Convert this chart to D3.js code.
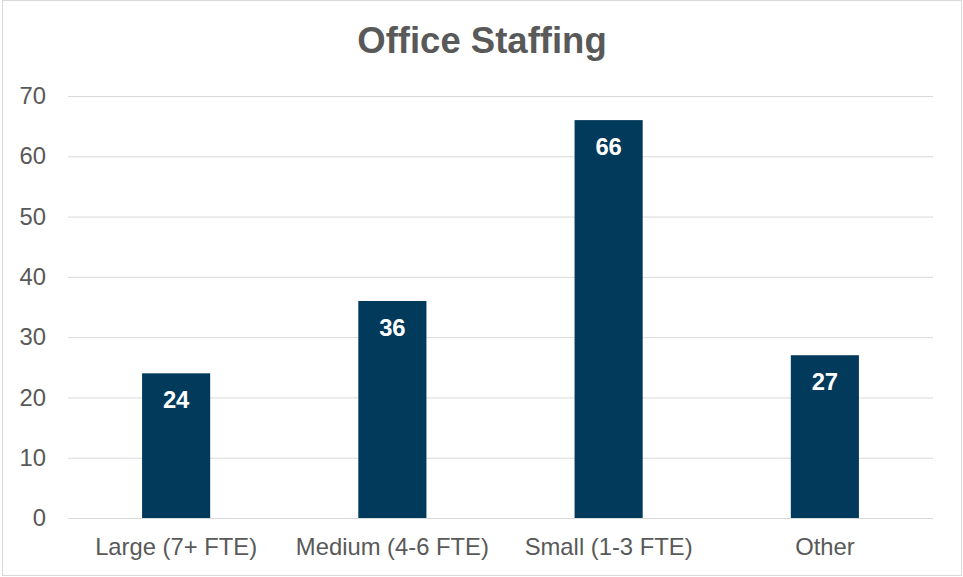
<!DOCTYPE html>
<html>
<head>
<meta charset="utf-8">
<script src="https://cdn.jsdelivr.net/npm/d3@7"></script>
<style>
  html, body { margin: 0; padding: 0; background: #fff; }
  svg { display: block; font-family: "Liberation Sans", Arial, sans-serif; }
</style>
</head>
<body>
<svg id="chart" width="963" height="577"></svg>
<script>
// Office staffing counts by office size
const categories = ["Large (7+ FTE)", "Medium (4-6 FTE)", "Small (1-3 FTE)", "Other"];
const counts = [24, 36, 66, 27];
const yTicks = [0, 10, 20, 30, 40, 50, 60, 70];
const titleText = "Office Staffing";

const W = 963, H = 577;
const plot = { left: 68, right: 933, top: 96, bottom: 518 };
const barColor = "#023a5c";
const textColor = "#595959";
const gridColor = "#d9d9d9";
const labelSize = "23.8px";

const svg = d3.select("#chart");

// chart frame
svg.append("rect")
  .attr("x", 2.5).attr("y", 0.5)
  .attr("width", W - 4).attr("height", H - 2)
  .attr("fill", "#fff")
  .attr("stroke", gridColor).attr("stroke-width", 1);

const x = d3.scaleBand().domain(categories).range([plot.left, plot.right]).padding(0);
const y = d3.scaleLinear().domain([0, 70]).range([plot.bottom, plot.top]);

// horizontal gridlines + value axis
const yAxis = d3.axisLeft(y).tickValues(yTicks).tickSize(-(plot.right - plot.left)).tickPadding(22);
const gy = svg.append("g").attr("transform", `translate(${plot.left},0)`).call(yAxis);
gy.select(".domain").remove();
gy.selectAll(".tick line").attr("stroke", gridColor).attr("stroke-width", 1);
gy.selectAll(".tick text")
  .attr("fill", textColor)
  .style("font-size", labelSize)
  .style("font-family", "'Liberation Sans', Arial, sans-serif");

// category axis labels
const xAxis = d3.axisBottom(x).tickSize(0).tickPadding(20);
const gx = svg.append("g").attr("transform", `translate(0,${plot.bottom})`).call(xAxis);
gx.select(".domain").remove();
gx.selectAll(".tick text")
  .attr("fill", textColor)
  .style("font-size", labelSize)
  .style("font-family", "'Liberation Sans', Arial, sans-serif");

// bars
const barW = x.bandwidth() * 0.315;
const data = categories.map((c, i) => ({ c, v: counts[i] }));

svg.append("g").selectAll("rect")
  .data(data).join("rect")
  .attr("x", d => x(d.c) + x.bandwidth() / 2 - barW / 2)
  .attr("y", d => y(d.v))
  .attr("width", barW)
  .attr("height", d => y(0) - y(d.v))
  .attr("fill", barColor);

// redraw the baseline gridline over the bars
svg.append("line")
  .attr("x1", plot.left).attr("x2", plot.right)
  .attr("y1", y(0) + 0.5).attr("y2", y(0) + 0.5)
  .attr("stroke", gridColor).attr("stroke-width", 1);

// value labels inside bar tops
svg.append("g").selectAll("text")
  .data(data).join("text")
  .attr("x", d => x(d.c) + x.bandwidth() / 2)
  .attr("y", d => y(d.v) + 35)
  .attr("text-anchor", "middle")
  .attr("fill", "#fff")
  .style("font-size", labelSize)
  .style("font-weight", "bold")
  .text(d => d.v);

// title
svg.append("text")
  .attr("x", 482)
  .attr("y", 53)
  .attr("text-anchor", "middle")
  .attr("fill", textColor)
  .style("font-size", "36.5px")
  .style("font-weight", "bold")
  .text(titleText);
</script>
</body>
</html>
